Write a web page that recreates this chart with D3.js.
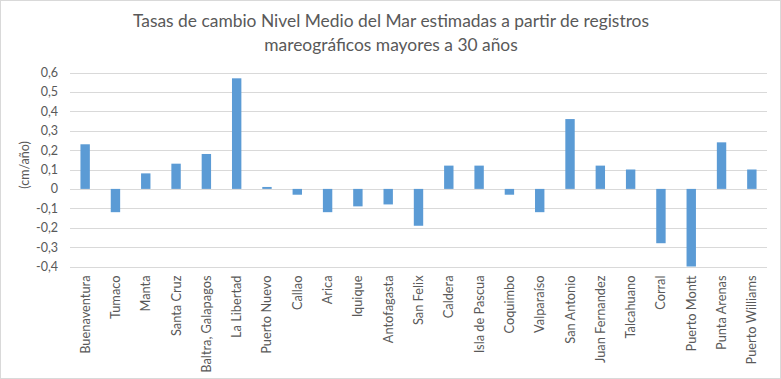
<!DOCTYPE html>
<html>
<head>
<meta charset="utf-8">
<script src="https://cdn.jsdelivr.net/npm/d3@7"></script>
<style>
html,body{margin:0;padding:0;background:#fff;}
svg{display:block;}
</style>
</head>
<body>
<script>
const categories = ["Buenaventura","Tumaco","Manta","Santa Cruz","Baltra, Galapagos","La Libertad","Puerto Nuevo","Callao","Arica","Iquique","Antofagasta","San Felix","Caldera","Isla de Pascua","Coquimbo","Valparaíso","San Antonio","Juan Fernandez","Talcahuano","Corral","Puerto Montt","Punta Arenas","Puerto Williams"];
const values = [0.23,-0.12,0.08,0.13,0.18,0.57,0.01,-0.03,-0.12,-0.09,-0.08,-0.19,0.12,0.12,-0.03,-0.12,0.36,0.12,0.10,-0.28,-0.40,0.24,0.10];
const yTicks = [-0.4,-0.3,-0.2,-0.1,0,0.1,0.2,0.3,0.4,0.5,0.6];
const titleLines = ["Tasas de cambio Nivel Medio del Mar estimadas a partir de registros","mareográficos mayores a 30 años"];
const yLabel = "(cm/año)";

const W = 781, H = 379;
const m = {left:70, right:14, top:72.5, bottom:112.5};
const svg = d3.select("body").append("svg").attr("width",W).attr("height",H);
svg.append("rect").attr("x",0.5).attr("y",0.5).attr("width",W-1).attr("height",H-1)
  .attr("fill","#fff").attr("stroke","#D9D9D9");

const x = d3.scaleBand().domain(categories).range([m.left, W-m.right]).paddingInner(0.69).paddingOuter(0.345);
const y = d3.scaleLinear().domain([-0.4,0.6]).range([H-m.bottom, m.top]);

const fmt = v => d3.format(".1f")(v).replace(".",",").replace("−","-");
const FONT = "Lato, 'Open Sans', sans-serif";

// gridlines
svg.append("g").selectAll("line").data(yTicks).join("line")
  .attr("x1",m.left).attr("x2",W-m.right)
  .attr("y1",d=>Math.round(y(d))+0.5).attr("y2",d=>Math.round(y(d))+0.5)
  .attr("stroke","#D9D9D9").attr("stroke-width",1);

// y axis labels
const yAxis = d3.axisLeft(y).tickValues(yTicks).tickFormat(d => d===0 ? "0" : fmt(d)).tickSize(0).tickPadding(12);
const gy = svg.append("g").attr("transform",`translate(${m.left},0)`).call(yAxis);
gy.select(".domain").remove();
gy.selectAll("text").attr("fill","#595959").style("font-family",FONT).style("font-size","12.5px");

// bars
svg.append("g").selectAll("rect").data(values).join("rect")
  .attr("x",(d,i)=>x(categories[i]))
  .attr("width",x.bandwidth())
  .attr("y",d=>y(Math.max(0,d)))
  .attr("height",d=>Math.abs(y(d)-y(0)))
  .attr("fill","#5B9BD5");

// x labels
const xAxis = d3.axisBottom(x).tickSize(0).tickPadding(0);
const gx = svg.append("g").attr("transform",`translate(0,${H-m.bottom})`).call(xAxis);
gx.select(".domain").remove();
gx.selectAll("text")
  .attr("transform","rotate(-90)")
  .attr("x",-9).attr("y",0).attr("dy","0.35em")
  .attr("text-anchor","end")
  .attr("fill","#595959")
  .style("font-family",FONT).style("font-size","12.8px");

// y label
svg.append("text").attr("transform",`translate(29,165) rotate(-90)`)
  .attr("text-anchor","middle").attr("fill","#595959")
  .style("font-family",FONT).style("font-size","12.5px")
  .text(yLabel);

// title
svg.append("g").selectAll("text").data(titleLines).join("text")
  .attr("x",391).attr("y",(d,i)=>27+i*24)
  .attr("text-anchor","middle").attr("fill","#595959")
  .style("font-family",FONT).style("font-size","17.4px")
  .text(d=>d);
</script>
</body>
</html>
